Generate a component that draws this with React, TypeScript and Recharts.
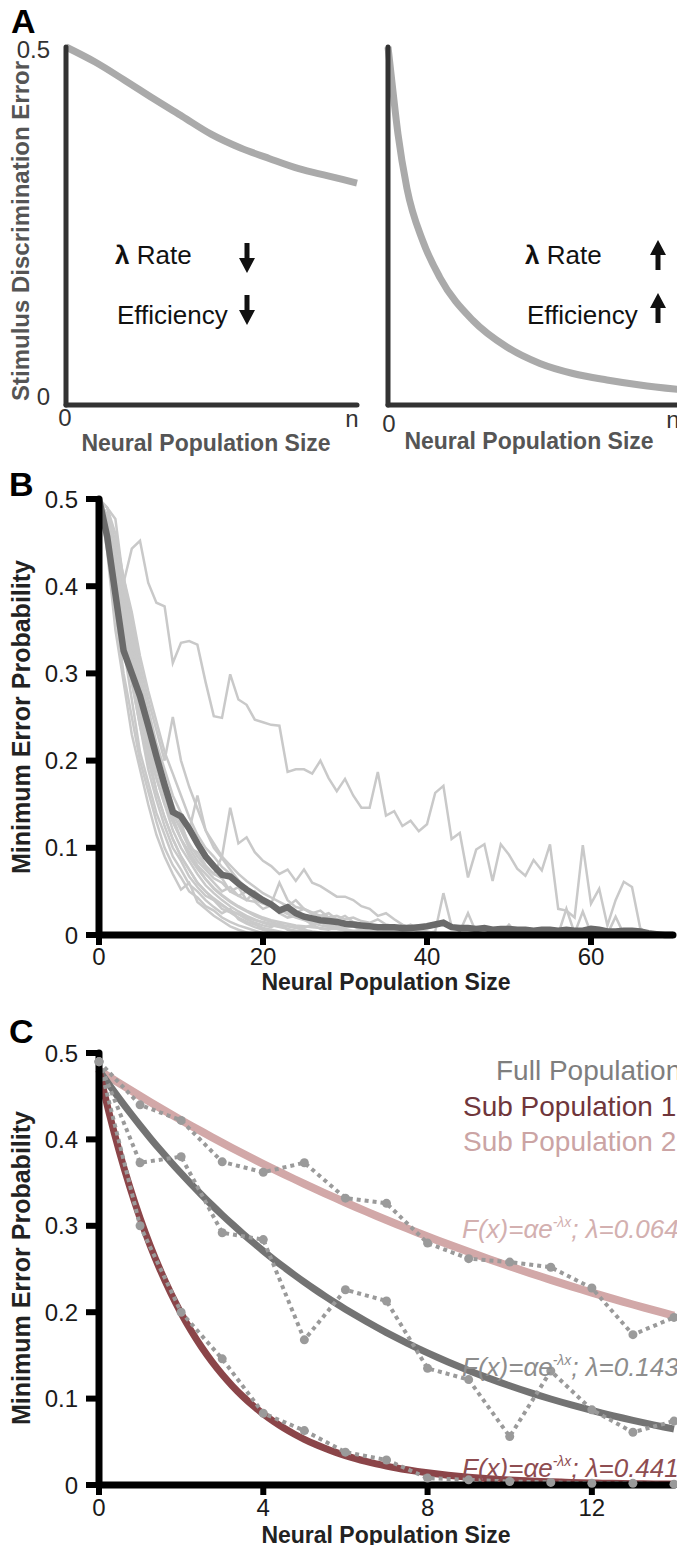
import React from 'react';
import { LineChart, Line, XAxis, YAxis } from 'recharts';

const FONT = '"Liberation Sans", Arial, Helvetica, sans-serif';

// ---- Panel A: schematic error vs population size (x runs 0..n, n = 10) ----
const slowX = [0, 1, 2, 3, 4, 5, 6, 7, 8, 9, 10];
const slowErr = [0.5, 0.479, 0.454, 0.428, 0.403, 0.378, 0.359, 0.344, 0.33, 0.32, 0.31];
const fastX = [0, 0.15, 0.34, 0.64, 1.18, 1.76, 2.88, 4.03, 5.15, 6.27, 7.42, 8.54, 10];
const fastErr = [0.5, 0.445, 0.378, 0.303, 0.229, 0.178, 0.118, 0.081, 0.058, 0.044, 0.035, 0.028, 0.021];

// ---- Panel B: minimum error probability per neuron count (x = 0, 1, 2, ...) ----
const meanErr = [
  0.5, 0.457, 0.391, 0.326, 0.3, 0.274, 0.24, 0.205, 0.172, 0.141,
  0.136, 0.122, 0.105, 0.09, 0.079, 0.069, 0.067, 0.059, 0.052, 0.046,
  0.04, 0.035, 0.028, 0.032, 0.025, 0.021, 0.019, 0.017, 0.016, 0.015,
  0.013, 0.012, 0.011, 0.01, 0.009, 0.009, 0.009, 0.008, 0.008, 0.009,
  0.01, 0.012, 0.014, 0.009, 0.008, 0.008, 0.007, 0.008, 0.006, 0.007,
  0.007, 0.006, 0.006, 0.005, 0.006, 0.006, 0.005, 0.006, 0.005, 0.005,
  0.007, 0.006, 0.004, 0.004, 0.005, 0.005, 0.004, 0.002, 0.001, 0, 0,
];
const slowRun = [
  0.5, 0.49, 0.477, 0.404, 0.443, 0.452, 0.404, 0.381, 0.377, 0.312,
  0.335, 0.337, 0.333, 0.29, 0.251, 0.249, 0.299, 0.27, 0.264, 0.247,
  0.244, 0.241, 0.24, 0.187, 0.19, 0.19, 0.185, 0.2, 0.18, 0.165,
  0.179, 0.16, 0.146, 0.146, 0.187, 0.137, 0.142, 0.125, 0.131, 0.119,
  0.127, 0.163, 0.171, 0.11, 0.117, 0.066, 0.098, 0.104, 0.062, 0.104,
  0.092, 0.076, 0.068, 0.086, 0.074, 0.104, 0.03, 0.028, 0.02, 0.103,
  0.036, 0.053, 0.011, 0.04, 0.061, 0.055, 0.008, 0,
];
const run01 = [0.5, 0.44, 0.35, 0.29, 0.23, 0.19, 0.15, 0.115, 0.09, 0.07, 0.052, 0.06, 0.038, 0.03, 0.022, 0.016, 0.01, 0.006, 0.003, 0];
const run02 = [0.5, 0.45, 0.37, 0.3, 0.25, 0.2, 0.165, 0.13, 0.1, 0.08, 0.066, 0.05, 0.043, 0.033, 0.028, 0.02, 0.015, 0.011, 0.008, 0.005, 0.002, 0];
const run03 = [0.5, 0.46, 0.39, 0.33, 0.27, 0.21, 0.175, 0.14, 0.115, 0.09, 0.075, 0.058, 0.05, 0.04, 0.032, 0.025, 0.03, 0.018, 0.013, 0.009, 0.006, 0.004, 0.002, 0];
const run04 = [0.5, 0.47, 0.41, 0.34, 0.29, 0.24, 0.19, 0.155, 0.125, 0.1, 0.085, 0.067, 0.055, 0.045, 0.04, 0.03, 0.026, 0.02, 0.015, 0.012, 0.008, 0.006, 0.004, 0.002, 0];
const run05 = [0.5, 0.46, 0.4, 0.35, 0.3, 0.25, 0.21, 0.165, 0.135, 0.11, 0.09, 0.075, 0.06, 0.05, 0.042, 0.035, 0.028, 0.024, 0.018, 0.014, 0.011, 0.009, 0.014, 0.006, 0.004, 0.003, 0];
const run06 = [0.5, 0.47, 0.42, 0.36, 0.31, 0.27, 0.22, 0.18, 0.15, 0.12, 0.1, 0.085, 0.07, 0.057, 0.048, 0.04, 0.033, 0.027, 0.022, 0.018, 0.014, 0.011, 0.009, 0.007, 0.005, 0.004, 0.002, 0];
const run07 = [0.5, 0.48, 0.43, 0.38, 0.33, 0.28, 0.235, 0.195, 0.16, 0.135, 0.11, 0.092, 0.078, 0.064, 0.053, 0.045, 0.038, 0.032, 0.027, 0.022, 0.018, 0.015, 0.012, 0.01, 0.008, 0.006, 0.004, 0.003, 0];
const run08 = [
  0.5, 0.48, 0.44, 0.39, 0.34, 0.29, 0.25, 0.21, 0.18, 0.15, 0.125, 0.105, 0.09, 0.078, 0.07, 0.09, 0.146, 0.105, 0.112, 0.095,
  0.085, 0.079, 0.07, 0.075, 0.062, 0.075, 0.06, 0.056, 0.05, 0.044, 0.044, 0.04, 0.033, 0.03, 0.022, 0.025, 0.018, 0.012, 0.008, 0.004, 0,
];
const run09 = [0.5, 0.49, 0.45, 0.41, 0.36, 0.31, 0.27, 0.235, 0.2, 0.25, 0.2, 0.17, 0.145, 0.12, 0.1, 0.088, 0.075, 0.063, 0.053, 0.046, 0.04, 0.034, 0.029, 0.024, 0.02, 0.017, 0.014, 0.011, 0.009, 0.007, 0.005, 0.003, 0];
const run10 = [
  0.5, 0.49, 0.46, 0.41, 0.37, 0.32, 0.28, 0.245, 0.21, 0.185, 0.16, 0.135, 0.115, 0.1, 0.09, 0.078, 0.07, 0.06, 0.052, 0.045,
  0.04, 0.035, 0.03, 0.026, 0.022, 0.02, 0.016, 0.014, 0.012, 0.01, 0.008, 0.01, 0.006, 0.005, 0.004, 0.003, 0.002, 0,
];
const run11 = [0.5, 0.45, 0.41, 0.35, 0.3, 0.27, 0.22, 0.2, 0.16, 0.14, 0.13, 0.1, 0.095, 0.08, 0.07, 0.065, 0.05, 0.055, 0.04, 0.038, 0.03, 0.034, 0.025, 0.02, 0.022, 0.018, 0.012, 0.015, 0.01, 0.008, 0.006, 0.004, 0];
const run12 = [
  0.5, 0.47, 0.42, 0.36, 0.31, 0.26, 0.21, 0.18, 0.15, 0.13, 0.11, 0.095, 0.08, 0.07, 0.06, 0.05, 0.055, 0.045, 0.04, 0.05,
  0.042, 0.036, 0.06, 0.04, 0.032, 0.03, 0.025, 0.028, 0.02, 0.018, 0.022, 0.015, 0.012, 0.01, 0.008, 0.006, 0.004, 0.003, 0,
];
const run13 = [
  0.5, 0.48, 0.44, 0.4, 0.35, 0.3, 0.26, 0.22, 0.19, 0.16, 0.14, 0.12, 0.16, 0.12, 0.105, 0.09, 0.08, 0.07, 0.062, 0.055,
  0.048, 0.043, 0.038, 0.033, 0.04, 0.03, 0.026, 0.022, 0.025, 0.018, 0.015, 0.012, 0.01, 0.012, 0.008, 0.006, 0.004, 0.002, 0,
];
const run14 = [
  0.5, 0.46, 0.4, 0.34, 0.29, 0.24, 0.2, 0.165, 0.135, 0.11, 0.09, 0.075, 0.06, 0.05, 0.04, 0.034, 0.028, 0.024, 0.02, 0.017,
  0.015, 0.013, 0.011, 0.01, 0.009, 0.008, 0.012, 0.007, 0.006, 0.01, 0.005, 0.004, 0.006, 0.004, 0.003, 0.005, 0.004, 0.003, 0.002, 0.003,
  0.002, 0.004, 0.048, 0.01, 0.004, 0.025, 0.003, 0.002, 0.002, 0.001, 0.012, 0.002, 0.001, 0,
];
const run15 = [
  0.5, 0.47, 0.42, 0.37, 0.32, 0.27, 0.23, 0.19, 0.16, 0.13, 0.11, 0.09, 0.076, 0.064, 0.054, 0.046, 0.039, 0.033, 0.028, 0.024,
  0.02, 0.017, 0.015, 0.013, 0.011, 0.01, 0.009, 0.008, 0.007, 0.007, 0.006, 0.005, 0.005, 0.004, 0.004, 0.003, 0.003, 0.003, 0.002, 0.002,
  0.002, 0.002, 0.002, 0.002, 0.001, 0.001, 0.001, 0.001, 0.001, 0.001, 0.001, 0.001, 0.001, 0.001, 0.001, 0.001, 0.001, 0.03, 0.002, 0.027,
  0.002, 0.001, 0.001, 0.021, 0.001, 0,
];
const run16 = [
  0.5, 0.48, 0.43, 0.37, 0.32, 0.27, 0.23, 0.2, 0.17, 0.14, 0.12, 0.1, 0.085, 0.075, 0.065, 0.06, 0.05, 0.045, 0.05, 0.04,
  0.036, 0.033, 0.03, 0.028, 0.026, 0.03, 0.024, 0.022, 0.02, 0.022, 0.018, 0.02, 0.016, 0.014, 0.018, 0.012, 0.01, 0.008, 0.012, 0.006,
  0.004, 0.002, 0,
];
const fastRuns = [run01, run02, run03, run04, run05, run06, run07, run08, run09, run10, run11, run12, run13, run14, run15, run16];

// ---- Panel C: measured error and exponential fits F(x) = a * exp(-lambda * x) ----
const popSizes = [0, 1, 2, 3, 4, 5, 6, 7, 8, 9, 10, 11, 12, 13, 14];
const fullErr = [0.49, 0.373, 0.38, 0.292, 0.284, 0.168, 0.226, 0.213, 0.135, 0.122, 0.056, 0.132, 0.087, 0.061, 0.074];
const sub1Err = [0.49, 0.3, 0.2, 0.146, 0.083, 0.063, 0.038, 0.029, 0.008, 0.006, 0.004, 0.003, 0.002, 0.002, 0.001];
const sub2Err = [0.49, 0.44, 0.422, 0.374, 0.362, 0.373, 0.332, 0.326, 0.28, 0.262, 0.258, 0.252, 0.228, 0.174, 0.194];
const fitAlpha = 0.48;
const lambdaFull = 0.143;
const lambdaSub1 = 0.441;
const lambdaSub2 = 0.064;

const toPoints = (xs: number[], ys: number[]) => ys.map((y, i) => ({ x: xs[i], y }));
const toRun = (ys: number[]) => ys.map((y, i) => ({ x: i, y }));
const fitX = Array.from({ length: 57 }, (_, i) => i * 0.25);
const fitCurve = (lambda: number) => fitX.map((x) => ({ x, y: fitAlpha * Math.exp(-lambda * x) }));

const COL = {
  schematic: '#aaaaaa',
  axisA: '#333333',
  run: '#c9c9c9',
  mean: '#6a6a6a',
  dots: '#9a9a9a',
  full: '#737373',
  sub1: '#8b4549',
  sub2: '#d2a8a8',
};

// ---------- tick renderers ----------
const SchematicYTick = (props: any) => {
  const { x, y, payload } = props;
  const dy = payload.value === 0 ? -0.5 : 11;
  return (
    <text x={x - 8} y={y + dy} textAnchor="end" fontSize={24} fill="#333" fontFamily={FONT}>
      {payload.value === 0 ? '0' : '0.5'}
    </text>
  );
};

const makeSchematicXTick = (zeroShift: number, zeroBase: number, nShift: number, nBase: number) => (props: any) => {
  const { x, payload } = props;
  const isZero = payload.value === 0;
  return (
    <text
      x={x + (isZero ? zeroShift : nShift)}
      y={isZero ? zeroBase : nBase}
      textAnchor="middle"
      fontSize={24}
      fill="#333"
      fontFamily={FONT}
    >
      {isZero ? '0' : 'n'}
    </text>
  );
};

const tickText = { fontSize: 24, fill: '#1a1a1a', fontFamily: FONT };
const heavyAxis = { stroke: '#000', strokeWidth: 7, strokeLinecap: 'round' as const };
const heavyTick = { stroke: '#000', strokeWidth: 6 };

const DownArrow = ({ x, top }: { x: number; top: number }) => (
  <g fill="#111">
    <rect x={x - 2.5} y={top} width={5} height={17} />
    <polygon points={`${x - 8},${top + 15} ${x + 8},${top + 15} ${x},${top + 30}`} />
  </g>
);

const UpArrow = ({ x, top }: { x: number; top: number }) => (
  <g fill="#111">
    <polygon points={`${x - 8},${top + 15} ${x + 8},${top + 15} ${x},${top}`} />
    <rect x={x - 2.5} y={top + 13} width={5} height={17} />
  </g>
);

const FitLabel = ({ y, lambda, color }: { y: number; lambda: string; color: string }) => (
  <text x={462} y={y} fontSize={26} fontStyle="italic" fill={color} fontFamily={FONT}>
    F(x)=αe
    <tspan dy={-11} fontSize={14}>-λx</tspan>
    <tspan dy={11}>; λ={lambda}</tspan>
  </text>
);

export default function App() {
  return (
    <div style={{ position: 'relative', width: 685, height: 1553, margin: -8, background: '#fff', overflow: 'hidden' }}>
      {/* A, left: slow decay */}
      <div style={{ position: 'absolute', left: 0, top: 0 }}>
        <LineChart width={370} height={470} data={toPoints(slowX, slowErr)} margin={{ top: 47, right: 13, left: 0, bottom: 0 }}>
          <XAxis
            dataKey="x"
            type="number"
            domain={[0, 10]}
            ticks={[0, 10]}
            height={65}
            axisLine={{ stroke: COL.axisA, strokeWidth: 5, strokeLinecap: 'round' }}
            tickLine={false}
            tick={makeSchematicXTick(-1, 426, -5, 427)}
          />
          <YAxis
            type="number"
            domain={[0, 0.5]}
            ticks={[0, 0.5]}
            width={66}
            axisLine={{ stroke: COL.axisA, strokeWidth: 5, strokeLinecap: 'round' }}
            tickLine={false}
            tick={<SchematicYTick />}
          />
          <Line dataKey="y" type="monotone" stroke={COL.schematic} strokeWidth={7} dot={false} isAnimationActive={false} />
        </LineChart>
      </div>

      {/* A, right: fast decay */}
      <div style={{ position: 'absolute', left: 340, top: 0 }}>
        <LineChart width={345} height={470} data={toPoints(fastX, fastErr)} margin={{ top: 47, right: 2, left: 0, bottom: 0 }}>
          <XAxis
            dataKey="x"
            type="number"
            domain={[0, 10]}
            ticks={[0, 10]}
            height={65}
            axisLine={{ stroke: COL.axisA, strokeWidth: 5, strokeLinecap: 'round' }}
            tickLine={false}
            tick={makeSchematicXTick(1, 432, -4, 428)}
          />
          <YAxis
            type="number"
            domain={[0, 0.5]}
            ticks={[0, 0.5]}
            width={48}
            axisLine={{ stroke: COL.axisA, strokeWidth: 5, strokeLinecap: 'round' }}
            tickLine={false}
            tick={false}
          />
          <Line dataKey="y" type="monotone" stroke={COL.schematic} strokeWidth={7} dot={false} isAnimationActive={false} />
        </LineChart>
      </div>

      {/* B: individual runs and their mean */}
      <div style={{ position: 'absolute', left: 0, top: 470 }}>
        <LineChart width={685} height={540} margin={{ top: 29, right: 12, left: 0, bottom: 0 }}>
          <XAxis
            dataKey="x"
            type="number"
            domain={[0, 70]}
            ticks={[0, 20, 40, 60]}
            height={75}
            axisLine={heavyAxis}
            tickLine={heavyTick}
            tickSize={10}
            tickMargin={3}
            tick={tickText}
          />
          <YAxis
            type="number"
            domain={[0, 0.5]}
            ticks={[0, 0.1, 0.2, 0.3, 0.4, 0.5]}
            width={99}
            axisLine={heavyAxis}
            tickLine={heavyTick}
            tickSize={13}
            tickMargin={8}
            tick={tickText}
          />
          {fastRuns.map((run, i) => (
            <Line
              key={i}
              data={toRun(run)}
              dataKey="y"
              type="linear"
              stroke={COL.run}
              strokeWidth={2.5}
              dot={false}
              isAnimationActive={false}
            />
          ))}
          <Line data={toRun(slowRun)} dataKey="y" type="linear" stroke={COL.run} strokeWidth={2.5} dot={false} isAnimationActive={false} />
          <Line data={toRun(meanErr)} dataKey="y" type="linear" stroke={COL.mean} strokeWidth={6.5} dot={false} isAnimationActive={false} />
        </LineChart>
      </div>

      {/* C: full population vs. two sub-populations */}
      <div style={{ position: 'absolute', left: 0, top: 1030 }}>
        <LineChart width={685} height={523} margin={{ top: 23, right: 11, left: 0, bottom: 0 }}>
          <XAxis
            dataKey="x"
            type="number"
            domain={[0, 14]}
            ticks={[0, 4, 8, 12]}
            height={68}
            axisLine={heavyAxis}
            tickLine={heavyTick}
            tickSize={10}
            tickMargin={4}
            tick={tickText}
          />
          <YAxis
            type="number"
            domain={[0, 0.5]}
            ticks={[0, 0.1, 0.2, 0.3, 0.4, 0.5]}
            width={99}
            axisLine={heavyAxis}
            tickLine={heavyTick}
            tickSize={13}
            tickMargin={8}
            tick={tickText}
          />
          <Line data={fitCurve(lambdaSub2)} dataKey="y" type="monotone" stroke={COL.sub2} strokeWidth={8} dot={false} isAnimationActive={false} />
          <Line data={fitCurve(lambdaFull)} dataKey="y" type="monotone" stroke={COL.full} strokeWidth={7} dot={false} isAnimationActive={false} />
          <Line data={fitCurve(lambdaSub1)} dataKey="y" type="monotone" stroke={COL.sub1} strokeWidth={7} dot={false} isAnimationActive={false} />
          {[sub2Err, fullErr, sub1Err].map((series, i) => (
            <Line
              key={i}
              data={toPoints(popSizes, series)}
              dataKey="y"
              type="linear"
              stroke={COL.dots}
              strokeWidth={4}
              strokeDasharray="4 4"
              dot={{ r: 4.5, fill: COL.dots, stroke: 'none' }}
              isAnimationActive={false}
            />
          ))}
        </LineChart>
      </div>

      {/* titles, annotations and panel letters */}
      <svg width={685} height={1553} style={{ position: 'absolute', left: 0, top: 0, pointerEvents: 'none' }} fontFamily={FONT}>
        <text x={11} y={33} fontSize={34} fontWeight="bold" fill="#000">A</text>
        <text x={9} y={496} fontSize={34} fontWeight="bold" fill="#000">B</text>
        <text x={9} y={1043} fontSize={34} fontWeight="bold" fill="#000">C</text>

        <text transform="translate(29,231) rotate(-90)" textAnchor="middle" fontSize={24} fontWeight="bold" fill="#555">
          Stimulus Discrimination Error
        </text>
        <text x={206} y={451} textAnchor="middle" fontSize={23} fontWeight="bold" fill="#555">Neural Population Size</text>
        <text x={529} y={449} textAnchor="middle" fontSize={23} fontWeight="bold" fill="#555">Neural Population Size</text>

        <text x={115} y={264} fontSize={26} fill="#111">
          <tspan fontWeight="bold">λ</tspan> Rate
        </text>
        <text x={117} y={324} fontSize={26} fill="#111">Efficiency</text>
        <DownArrow x={247} top={243} />
        <DownArrow x={247} top={295} />
        <text x={525} y={264} fontSize={26} fill="#111">
          <tspan fontWeight="bold">λ</tspan> Rate
        </text>
        <text x={527} y={324} fontSize={26} fill="#111">Efficiency</text>
        <UpArrow x={658} top={240} />
        <UpArrow x={658} top={293} />

        <text transform="translate(30,717) rotate(-90)" textAnchor="middle" fontSize={25} fontWeight="bold" fill="#222">
          Minimum Error Probability
        </text>
        <text x={386} y={990} textAnchor="middle" fontSize={23} fontWeight="bold" fill="#222">Neural Population Size</text>

        <text transform="translate(30,1268) rotate(-90)" textAnchor="middle" fontSize={25} fontWeight="bold" fill="#222">
          Minimum Error Probability
        </text>
        <text x={386} y={1543} textAnchor="middle" fontSize={23} fontWeight="bold" fill="#222">Neural Population Size</text>

        <text x={496} y={1080} fontSize={28} fill="#7e7e7e">Full Population</text>
        <text x={463} y={1116} fontSize={28} fill="#6f363b">Sub Population 1</text>
        <text x={463} y={1151} fontSize={28} fill="#cba4a4">Sub Population 2</text>

        <FitLabel y={1238} lambda="0.064" color="#d3b0b0" />
        <FitLabel y={1376} lambda="0.143" color="#8d8d8d" />
        <FitLabel y={1477} lambda="0.441" color="#8e4d51" />
      </svg>
    </div>
  );
}
